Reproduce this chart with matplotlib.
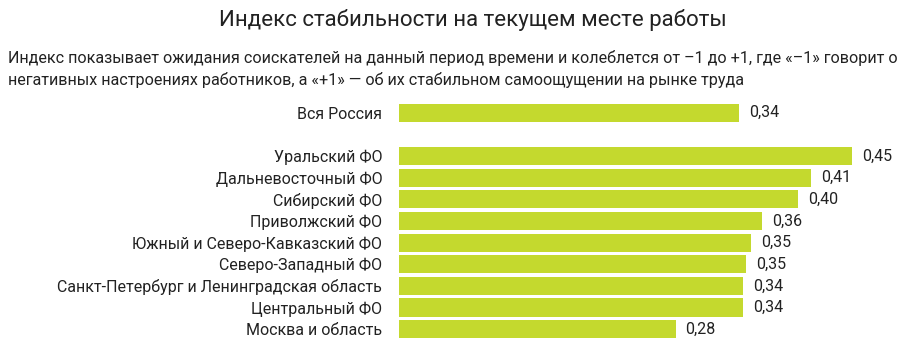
import matplotlib
matplotlib.use("Agg")
import matplotlib.pyplot as plt

plt.rcParams['font.family'] = ['Roboto', 'DejaVu Sans']

categories = ["Вся Россия", "Уральский ФО", "Дальневосточный ФО", "Сибирский ФО",
              "Приволжский ФО", "Южный и Северо-Кавказский ФО", "Северо-Западный ФО",
              "Санкт-Петербург и Ленинградская область", "Центральный ФО", "Москва и область"]
values = [0.339, 0.452, 0.411, 0.398, 0.362, 0.351, 0.346, 0.343, 0.343, 0.276]
value_labels = ["0,34", "0,45", "0,41", "0,40", "0,36", "0,35", "0,35", "0,34", "0,34", "0,28"]
positions = [0, 2, 3, 4, 5, 6, 7, 8, 9, 10]

title = "Индекс стабильности на текущем месте работы"
subtitle = ("Индекс показывает ожидания соискателей на данный период времени и колеблется от –1 до +1, где «–1» говорит о\n"
            "негативных настроениях работников, а «+1» — об их стабильном самоощущении на рынке труда")

fig = plt.figure(figsize=(9, 3.52), dpi=100)
ax = fig.add_axes([399/900, 1-340/352, 501/900, 238/352])
ax.barh(positions, values, height=0.84, color="#C4D92E")
ax.set_xlim(0, 0.5)
ax.set_ylim(10.5, -0.5)
ax.set_yticks(positions)
ax.set_yticklabels(categories, fontsize=11.5, color="#222222")
ax.tick_params(axis='y', length=0, pad=12)
ax.set_xticks([])
for s in ax.spines.values():
    s.set_visible(False)
for p, v, lab in zip(positions, values, value_labels):
    ax.text(v + 0.01, p, lab, va='center', ha='left', fontsize=11.5, color="#222222")

fig.text(473/900, 1-20/352, title, ha='center', va='center', fontsize=16, color="#222222")
fig.text(8/900, 1-69/352, subtitle, ha='left', va='center', fontsize=11.6, color="#222222",
         linespacing=1.45)
fig.savefig("out.png", dpi=100)
